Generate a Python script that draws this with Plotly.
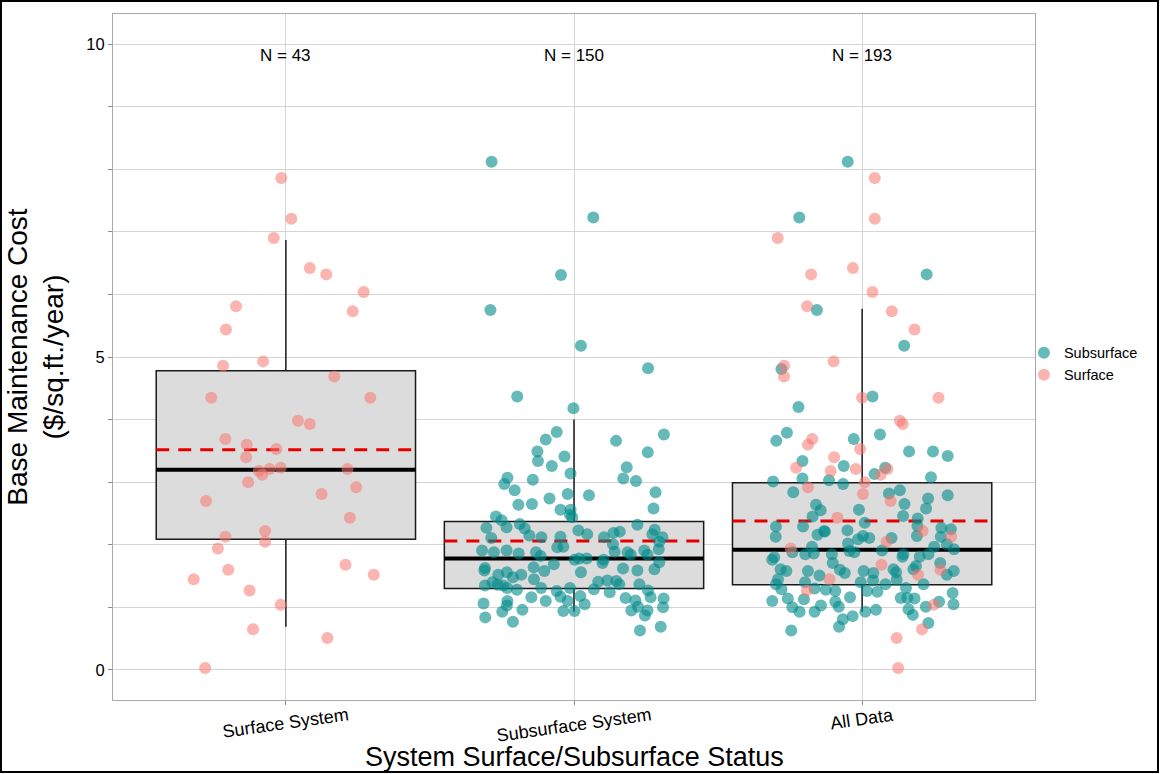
"""
Base maintenance cost by surface/subsurface status — box plot with jittered points.
"""

import plotly.graph_objects as go

# Categories and box statistics
categories = ["Surface System", "Subsurface System", "All Data"]
n_counts = [43, 150, 193]
box_q1 = [2.09, 1.30, 1.36]
box_median = [3.20, 1.78, 1.92]
box_q3 = [4.78, 2.37, 2.99]
box_lower = [0.69, 0.93, 0.93]
box_upper = [6.87, 4.00, 5.77]
box_mean = [3.52, 2.06, 2.38]

# Surface systems: cost, jitter in "Surface System" column, jitter in "All Data" column
surface_cost = [7.86, 7.21, 6.90, 6.42, 6.32, 6.04, 5.81, 5.73, 5.44, 4.86, 4.93, 4.69, 4.35, 4.35,
                3.98, 3.93, 3.69, 3.60, 3.53, 3.40, 3.18, 3.21, 3.23, 3.12, 3.21, 3.00, 2.92, 2.81,
                2.70, 2.43, 2.22, 2.13, 2.05, 1.94, 1.68, 1.60, 1.52, 1.45, 1.27, 1.04, 0.65, 0.51, 0.03]
surface_jit = [-0.016, 0.019, -0.042, 0.083, 0.140, 0.270, -0.173, 0.232, -0.208, -0.218, -0.079, 0.168,
               -0.259, 0.293, 0.042, 0.083, -0.210, -0.136, -0.033, -0.138, -0.094, -0.057, -0.018,
               -0.082, 0.214, -0.131, 0.244, 0.124, -0.277, 0.222, -0.072, -0.210, -0.072, -0.236,
               0.207, -0.200, 0.305, -0.320, -0.126, -0.018, -0.114, 0.144, -0.280]
surface_jit_all = [0.044, 0.044, -0.293, -0.032, -0.177, 0.036, -0.191, 0.103, 0.182, -0.271, -0.099,
                   -0.271, 0.000, 0.265, 0.131, 0.141, -0.173, -0.188, -0.007, -0.097, -0.109, -0.022,
                   -0.229, 0.064, 0.088, 0.009, -0.188, 0.003, 0.099, -0.086, 0.210, 0.309, 0.085,
                   -0.248, 0.067, 0.272, 0.194, -0.113, -0.192, 0.249, 0.208, 0.120, 0.125]

# Subsurface systems, "Subsurface System" column
subsurface_cost = [8.12, 7.23, 6.31, 5.75, 5.18, 4.82, 4.37, 4.18,
                   3.80, 3.68, 3.66, 3.76, 3.48, 3.49, 3.34, 3.41, 3.26, 3.24, 3.14, 3.07, 2.97, 3.04,
                   3.06, 3.02, 2.87, 2.84, 2.81, 2.79, 2.74, 2.64, 2.65, 2.58, 2.56, 2.56, 2.48, 2.44,
                   2.45, 2.39, 2.33, 2.32, 2.27, 2.28, 2.26, 2.23, 2.19, 2.21, 2.24, 2.15, 2.17, 2.11,
                   2.12, 2.13, 2.12, 2.17, 2.12, 2.01, 2.05, 1.96, 1.97, 1.91, 1.88, 1.91, 1.86, 1.88,
                   1.89, 1.88, 1.91, 1.93, 1.82, 1.84, 1.84, 1.76, 1.78, 1.78, 1.76, 1.69, 1.72, 1.71,
                   1.63, 1.59, 1.64, 1.58, 1.62, 1.59, 1.61, 1.56, 1.56, 1.52, 1.52, 1.48, 1.45, 1.35,
                   1.40, 1.36, 1.35, 1.31, 1.28, 1.31, 1.26, 1.31, 1.29, 1.41, 1.43, 1.42, 1.37, 1.37,
                   1.24, 1.27, 1.16, 1.10, 1.17, 1.10, 1.18, 1.05, 1.15, 1.11, 1.16, 1.14, 1.06, 1.10,
                   1.03, 0.96, 0.93, 0.94, 0.94, 0.95, 1.01, 0.95, 0.87, 1.00, 0.84, 0.77, 0.63, 0.69]
subsurface_jit = [-0.286, 0.067, -0.045, -0.290, 0.024, 0.257, -0.197, -0.002,
                  -0.060, -0.098, 0.146, 0.312, 0.256, -0.127, -0.125, -0.033, -0.077, 0.183, -0.012,
                  -0.231, -0.242, -0.143, 0.171, 0.215, -0.206, 0.283, -0.022, 0.052, -0.085, -0.193,
                  -0.146, 0.276, -0.047, -0.012, -0.014, -0.006, -0.271, -0.251, -0.188, 0.220, -0.304,
                  -0.234, -0.171, 0.015, 0.137, 0.159, 0.280, -0.155, 0.046, -0.287, -0.113, -0.047,
                  0.104, 0.272, 0.307, 0.135, 0.296, -0.058, -0.037, -0.319, -0.278, -0.234, -0.192,
                  -0.132, 0.141, 0.186, 0.244, 0.294, -0.116, 0.197, 0.255, 0.002, 0.018, 0.044, 0.103,
                  -0.070, 0.296, 0.099, -0.309, -0.311, -0.140, -0.103, 0.170, 0.220, 0.279, 0.024,
                  -0.233, -0.263, -0.183, -0.212, -0.139, -0.309, -0.283, -0.265, -0.246, -0.232,
                  -0.198, -0.114, -0.060, -0.014, 0.069, 0.084, 0.116, 0.147, 0.157, 0.227, 0.124,
                  0.257, -0.148, -0.098, -0.047, -0.022, 0.022, 0.037, 0.179, 0.213, 0.266, 0.311,
                  -0.314, -0.231, -0.233, -0.179, -0.249, -0.037, 0.002, 0.199, 0.222, 0.255, 0.246,
                  0.309, -0.308, -0.212, 0.229, 0.301]

# Subsurface systems as read in the "All Data" column
all_sub_cost = [8.12, 7.23, 6.32, 5.75, 5.18, 4.81, 4.37, 4.20,
                3.66, 3.79, 3.69, 3.76, 3.49, 3.49, 3.42, 3.34, 3.26, 3.13, 3.23, 3.01, 3.06, 3.03,
                2.97, 3.08, 2.84, 2.82, 2.87, 2.74, 2.79, 2.64, 2.55, 2.65, 2.58, 2.56, 2.45, 2.46,
                2.42, 2.35, 2.29, 2.29, 2.22, 2.23, 2.14, 2.11, 2.30, 2.27, 2.25, 2.13, 2.16, 2.21,
                2.14, 2.13, 2.02, 2.09, 2.11, 1.97, 1.90, 1.97, 2.01, 1.93, 1.88, 1.85, 1.86, 1.85,
                1.88, 1.91, 1.85, 1.81, 1.85, 1.80, 1.76, 1.71, 1.81, 1.71, 1.61, 1.58, 1.58, 1.51,
                1.60, 1.55, 1.58, 1.55, 1.61, 1.56, 1.61, 1.66, 1.52, 1.58, 1.45, 1.37, 1.40, 1.30,
                1.28, 1.26, 1.40, 1.26, 1.43, 1.25, 1.37, 1.44, 1.31, 1.37, 1.29, 1.10, 1.14, 1.13,
                1.00, 0.93, 0.93, 1.03, 1.09, 1.01, 1.16, 0.86, 0.81, 0.69, 0.63, 0.93, 0.96, 1.15,
                1.15, 1.14, 0.97, 0.88, 1.01, 1.09, 1.23, 1.05, 0.75]
all_sub_jit = [-0.050, -0.218, 0.224, -0.157, 0.146, -0.280, 0.036, -0.221,
               -0.298, -0.261, -0.029, 0.062, 0.163, 0.246, 0.297, -0.207, -0.064, 0.043, 0.080,
               -0.309, -0.207, -0.115, -0.066, 0.239, -0.239, 0.093, 0.131, 0.229, 0.297, -0.160,
               -0.144, 0.147, 0.222, -0.011, -0.172, 0.142, 0.193, 0.009, -0.299, -0.205, -0.132,
               -0.051, 0.003, 0.025, 0.192, 0.275, 0.308, -0.300, -0.155, -0.129, 0.190, 0.273,
               -0.049, -0.014, 0.102, -0.174, -0.044, 0.250, 0.294, 0.319, -0.242, -0.197, -0.168,
               -0.105, -0.027, 0.069, 0.143, 0.200, 0.230, -0.305, -0.312, -0.102, 0.140, 0.271,
               -0.283, -0.263, -0.188, -0.148, -0.077, -0.060, 0.005, 0.039, 0.109, 0.118, 0.178,
               0.187, 0.294, 0.318, -0.292, -0.299, -0.198, -0.165, -0.126, -0.093, -0.005, 0.017,
               0.038, 0.053, 0.081, 0.120, 0.152, 0.213, -0.280, -0.312, -0.258, -0.202, -0.242,
               -0.217, -0.165, -0.143, -0.093, -0.081, -0.042, -0.033, -0.067, -0.080, -0.246,
               0.011, 0.048, 0.134, 0.157, 0.182, 0.161, 0.176, 0.221, 0.267, 0.314, 0.317, 0.230]

TEAL = "rgba(0,139,139,0.6)"
SALMON = "rgba(248,118,109,0.55)"
FONT = "Liberation Sans, Arial, sans-serif"
BOX_W = 0.9

xpos = [1, 2, 3]

fig = go.Figure()

# Boxes (gray fill, whiskers without caps)
fig.add_trace(go.Box(
    x=xpos, q1=box_q1, median=box_median, q3=box_q3,
    lowerfence=box_lower, upperfence=box_upper,
    width=BOX_W, whiskerwidth=0,
    fillcolor="#DCDCDC", line=dict(color="#1a1a1a", width=1.5),
    showlegend=False, hoverinfo="skip",
))

# Thick median bars and dashed mean bars
med_x, med_y, mean_x, mean_y = [], [], [], []
for xc, md, mn in zip(xpos, box_median, box_mean):
    med_x += [xc - BOX_W / 2, xc + BOX_W / 2, None]
    med_y += [md, md, None]
    mean_x += [xc - BOX_W / 2, xc + BOX_W / 2, None]
    mean_y += [mn, mn, None]

fig.add_trace(go.Scatter(x=med_x, y=med_y, mode="lines", line=dict(color="black", width=4),
                         showlegend=False, hoverinfo="skip"))
fig.add_trace(go.Scatter(x=mean_x, y=mean_y, mode="lines",
                         line=dict(color="#E50000", width=3, dash="13px,9px"),
                         showlegend=False, hoverinfo="skip"))

# Jittered points
marker_kw = dict(size=12, line=dict(width=0))
fig.add_trace(go.Scatter(
    x=[2 + j for j in subsurface_jit], y=subsurface_cost, mode="markers",
    marker=dict(color=TEAL, **marker_kw), name="Subsurface",
    legendgroup="sub", legendrank=1,
))
fig.add_trace(go.Scatter(
    x=[3 + j for j in all_sub_jit], y=all_sub_cost, mode="markers",
    marker=dict(color=TEAL, **marker_kw), name="Subsurface",
    legendgroup="sub", showlegend=False,
))
fig.add_trace(go.Scatter(
    x=[1 + j for j in surface_jit], y=surface_cost, mode="markers",
    marker=dict(color=SALMON, **marker_kw), name="Surface",
    legendgroup="surf", legendrank=2,
))
fig.add_trace(go.Scatter(
    x=[3 + j for j in surface_jit_all], y=surface_cost, mode="markers",
    marker=dict(color=SALMON, **marker_kw), name="Surface",
    legendgroup="surf", showlegend=False,
))

# Sample size labels
for xc, n in zip(xpos, n_counts):
    fig.add_annotation(x=xc, y=10, yanchor="top", text=f"N = {n}", showarrow=False,
                       font=dict(size=17, color="black", family=FONT))

# Slanted category labels, centred under each tick
for xc, label in zip(xpos, categories):
    fig.add_annotation(x=xc, y=0, yref="paper", yanchor="top", yshift=-2,
                       text=label, textangle=-8, showarrow=False,
                       font=dict(size=18, color="black", family=FONT))

# Axis titles
fig.add_annotation(x=0.5, y=-0.083, xref="paper", yref="paper", yanchor="middle",
                   text="System Surface/Subsurface Status", showarrow=False,
                   font=dict(size=27, color="black", family=FONT))
fig.add_annotation(x=-0.085, y=0.5, xref="paper", yref="paper", xanchor="center", yanchor="middle",
                   text="Base Maintenance Cost<br>($/sq.ft./year)", textangle=-90, showarrow=False,
                   font=dict(size=28, color="black", family=FONT))

# Outer frame
fig.add_shape(type="rect", xref="paper", yref="paper",
              x0=-0.1215, x1=1.1334, y0=-0.105, y1=1.019,
              line=dict(color="black", width=2), layer="above")

ytext = ["0" if v == 0 else "5" if v == 5 else "10" if v == 10 else "" for v in range(11)]

fig.update_layout(
    width=1161, height=774,
    font=dict(family=FONT, color="black"),
    plot_bgcolor="white", paper_bgcolor="white",
    margin=dict(l=113, r=126, t=14, b=74),
    xaxis=dict(
        range=[0.4, 3.6], tickvals=xpos, showticklabels=False,
        ticks="outside", ticklen=4, tickcolor="#8c8c8c",
        showgrid=True, gridcolor="#d4d4d4", gridwidth=1, zeroline=False,
        showline=True, linecolor="#a8a8a8", linewidth=1, mirror=True,
    ),
    yaxis=dict(
        range=[-0.48, 10.48], tickvals=list(range(11)), ticktext=ytext,
        tickfont=dict(size=16.5, color="black"),
        ticks="outside", ticklen=4, tickcolor="#8c8c8c",
        showgrid=True, gridcolor="#d4d4d4", gridwidth=1, zeroline=False,
        showline=True, linecolor="#a8a8a8", linewidth=1, mirror=True,
    ),
    legend=dict(x=0.988, y=0.49, xanchor="left", yanchor="middle",
                font=dict(size=14.5), bgcolor="rgba(0,0,0,0)", itemwidth=30, tracegroupgap=0),
)

fig.write_html(
    "out.html",
    config={"displayModeBar": False},
    post_script=(
        "document.documentElement.style.overflow='hidden';"
        "document.body.style.margin='0';document.body.style.overflow='hidden';"
        "Plotly.relayout(document.getElementById('{plot_id}'), {width: 1161, height: 774});"
    ),
)
